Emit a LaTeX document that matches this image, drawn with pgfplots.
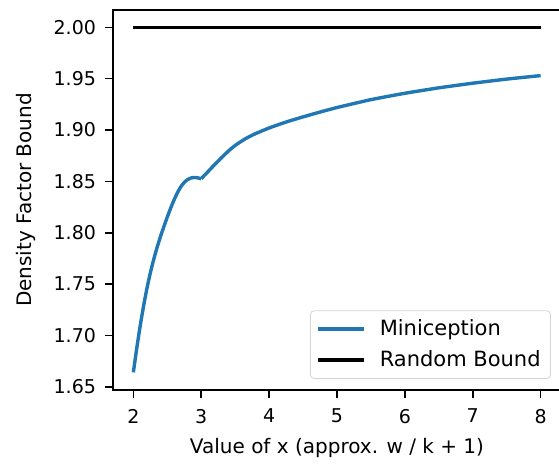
\documentclass[border=0pt]{standalone}
\usepackage{fontspec}
\setmainfont{DejaVu Sans}
\usepackage{pgfplots}
\pgfplotsset{compat=1.18}
\definecolor{mplblue}{HTML}{1F77B4}
\definecolor{legedge}{HTML}{D6D6D6}

\begin{document}
\begin{tikzpicture}
\begin{axis}[
    name=ax,
    scale only axis,
    width=224pt, height=190pt,
    xmin=1.7, xmax=8.3,
    ymin=1.6468, ymax=2.0169,
    xtick={2,3,4,5,6,7,8},
    ytick={1.65,1.70,1.75,1.80,1.85,1.90,1.95,2.00},
    yticklabel style={/pgf/number format/fixed, /pgf/number format/fixed zerofill,
        /pgf/number format/precision=2, xshift=-1pt},
    /pgf/number format/assume math mode=true,
    tick label style={font=\fontsize{9.5}{11}\selectfont},
    xtick pos=left, ytick pos=left,
    tick align=outside,
    major tick length=4pt,
    axis line style={line width=0.8pt},
    every tick/.style={line width=0.8pt, black},
    xticklabel style={yshift=-2pt},
    label style={font=\fontsize{10.5}{12}\selectfont},
    every axis x label/.style={at={(axis description cs:0.5,0)}, yshift=-29pt, anchor=center},
    every axis y label/.style={at={(axis description cs:0,0.5)}, xshift=-43.5pt, rotate=90, anchor=center},
    xlabel={Value of x (approx. w / k + 1)},
    ylabel={Density Factor Bound},
    legend style={at={(axis description cs:1,0)}, anchor=south east,
        xshift=-5pt, yshift=5.5pt, draw=legedge, rounded corners=2pt,
        fill=white, font=\fontsize{10.5}{12}\selectfont,
        row sep=2pt, inner xsep=3pt, inner ysep=2.5pt},
    legend cell align=left,
    legend image code/.code={\draw[#1] (0pt,0pt) -- (23pt,0pt); \path (28pt,0pt);},
]
% left branch (x < 3)
\addplot[mplblue, line width=1.7pt, smooth, tension=0.3] coordinates {
    (2.00,1.6640) (2.05,1.6875) (2.10,1.7090) (2.15,1.7285) (2.20,1.7458)
    (2.25,1.7608) (2.30,1.7740) (2.35,1.7858) (2.40,1.7963) (2.45,1.8060)
    (2.50,1.8153) (2.55,1.8240) (2.60,1.8320) (2.65,1.8390) (2.70,1.8448)
    (2.75,1.8490) (2.80,1.8518) (2.85,1.8533) (2.90,1.8538) (2.95,1.8534)
    (3.00,1.8526)
};
\addlegendentry{Miniception}
\addplot[black, line width=1.7pt] coordinates {(2,2.0) (8,2.0)};
\addlegendentry{Random Bound}
% right branch (x >= 3)
\addplot[mplblue, line width=1.7pt, smooth, tension=0.3, forget plot] coordinates {
    (3.00,1.8526) (3.10,1.8595) (3.20,1.8665) (3.30,1.8732) (3.40,1.8795)
    (3.50,1.8850) (3.65,1.8915) (3.80,1.8965) (4.00,1.9020) (4.25,1.9078)
    (4.50,1.9128) (4.75,1.9175) (5.00,1.9219) (5.50,1.9296) (6.00,1.9358)
    (6.50,1.9411) (7.00,1.9456) (7.50,1.9496) (8.00,1.9530)
};
\end{axis}
\pgfresetboundingbox
\path[use as bounding box] ([shift={(-56.5pt,-36.5pt)}]ax.south west)
    rectangle ([shift={(223pt,195pt)}]ax.south west);
\end{tikzpicture}
\end{document}
